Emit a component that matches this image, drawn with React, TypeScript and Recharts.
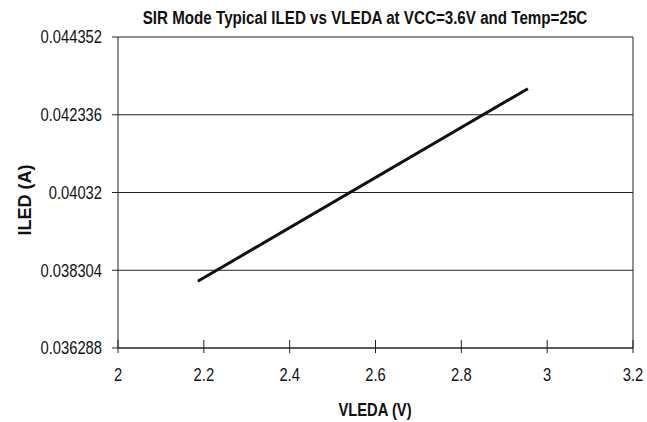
import React from "react";
import { LineChart, Line, XAxis, YAxis, CartesianGrid, ReferenceLine } from "recharts";

const vleda = [2.186, 2.955];
const iled = [0.038018, 0.043012];
const xTicks = [2, 2.2, 2.4, 2.6, 2.8, 3, 3.2];
const yTicks = [0.036288, 0.038304, 0.04032, 0.042336, 0.044352];
const title = "SIR Mode Typical ILED vs VLEDA at VCC=3.6V and Temp=25C";
const xLabel = "VLEDA (V)";
const yLabel = "ILED (A)";

const data = vleda.map((v, i) => ({ v, i: iled[i] }));

const sans = "'Liberation Sans', Arial, sans-serif";
const SQ = 0.82;

function NarrowText(props: any) {
  const { x, y, anchor, dy, bold, children, size } = props;
  return (
    <g transform={`translate(${x} ${y}) scale(${SQ} 1)`}>
      <text x={0} y={0} dy={dy} textAnchor={anchor} fontFamily={sans} fontWeight={bold ? "bold" : "normal"} fontSize={size} fill="#111">
        {children}
      </text>
    </g>
  );
}

function XTick(props: any) {
  const { x, y, payload } = props;
  return (
    <g>
      <line x1={x} x2={x} y1={y - 28} y2={y - 15} stroke="#222" strokeWidth={1} />
      <NarrowText x={x} y={y} anchor="middle" dy="0.71em" size={18}>
        {String(payload.value)}
      </NarrowText>
    </g>
  );
}

function YTick(props: any) {
  const { x, y, payload } = props;
  return (
    <NarrowText x={x} y={y} anchor="end" dy="0.355em" size={18}>
      {String(payload.value)}
    </NarrowText>
  );
}

export default function App() {
  return (
    <div style={{ width: 647, height: 422 }}>
      <style>{`html,body{margin:0;padding:0;overflow:hidden}`}</style>
      <LineChart width={647} height={422} data={data} margin={{ top: 37, right: 14, bottom: 0, left: 0 }}>
        <NarrowText x={365} y={24} anchor="middle" bold size={18.5}>
          {title}
        </NarrowText>
        <NarrowText x={375} y={416} anchor="middle" bold size={18}>
          {xLabel}
        </NarrowText>
        <text
          x={0}
          y={0}
          transform="translate(31 200) rotate(-90)"
          textAnchor="middle"
          fontFamily={sans}
          fontWeight="bold"
          fontSize={18}
          fill="#111"
        >
          {yLabel}
        </text>
        <CartesianGrid vertical={false} stroke="#222" strokeWidth={1} />
        <XAxis
          dataKey="v"
          type="number"
          domain={[2, 3.2]}
          ticks={xTicks}
          interval={0}
          height={74}
          stroke="#222"
          tickSize={6}
          tickMargin={14}
          tickLine={false}
          tick={<XTick />}
        />
        <YAxis
          type="number"
          domain={[0.036288, 0.044352]}
          ticks={yTicks}
          interval={0}
          width={118}
          stroke="#222"
          tickSize={6}
          tickMargin={10}
          tick={<YTick />}
        />
        <ReferenceLine x={3.2} stroke="#222" />
        <Line dataKey="i" stroke="#111" strokeWidth={3} dot={false} isAnimationActive={false} />
      </LineChart>
    </div>
  );
}
